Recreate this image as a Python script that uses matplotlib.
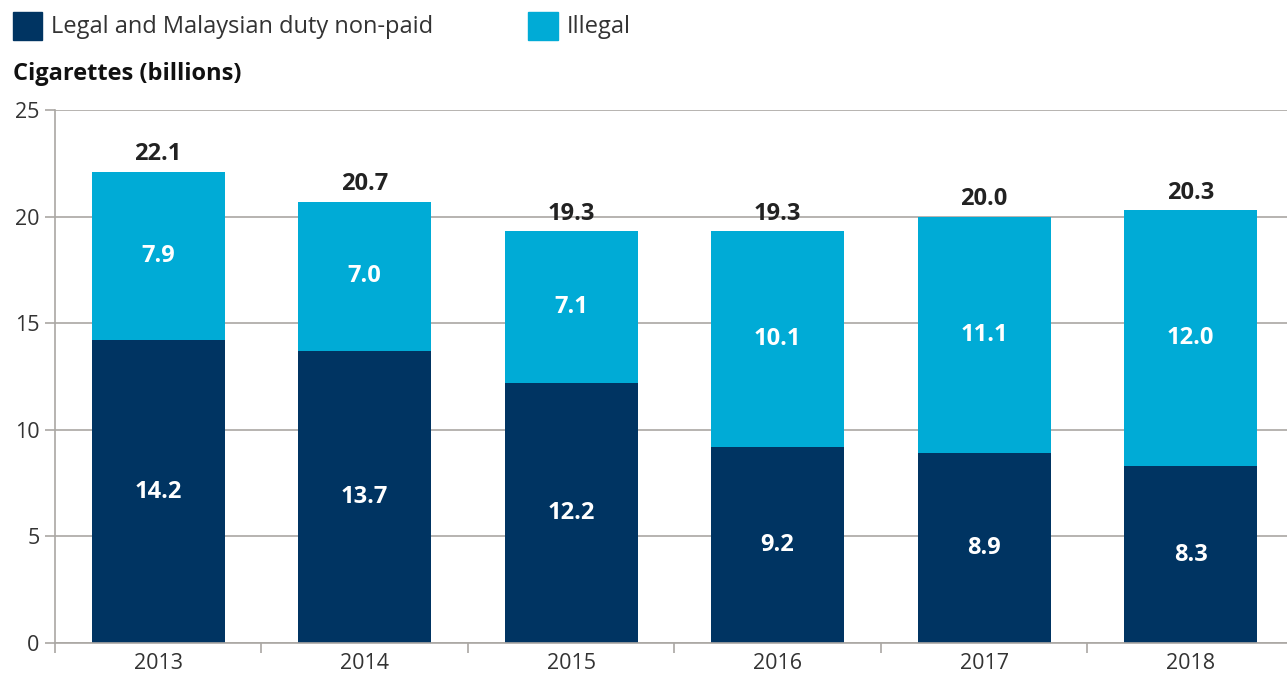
import matplotlib.pyplot as plt
from matplotlib.patches import Rectangle
import numpy as np

years = ["2013", "2014", "2015", "2016", "2017", "2018"]
legal = [14.2, 13.7, 12.2, 9.2, 8.9, 8.3]
illegal = [7.9, 7.0, 7.1, 10.1, 11.1, 12.0]
totals = [22.1, 20.7, 19.3, 19.3, 20.0, 20.3]
yticks = [0, 5, 10, 15, 20, 25]

navy = "#003462"
cyan = "#00abd6"
grey = "#aaa7a3"

plt.rcParams['font.family'] = ['Open Sans', 'DejaVu Sans']

fig = plt.figure(figsize=(12.87, 6.73), dpi=100)
ax = fig.add_axes([0.0427, 0.0446, 0.9573, 0.792])

x = np.arange(len(years))
w = 0.645
ax.bar(x, legal, w, color=navy, zorder=3)
ax.bar(x, illegal, w, bottom=legal, color=cyan, zorder=3)

# value labels
for i in range(len(years)):
    ax.text(x[i], legal[i] / 2, "%.1f" % legal[i], ha="center", va="center",
            color="white", fontsize=17, fontweight="bold", zorder=4)
    ax.text(x[i], legal[i] + illegal[i] / 2, "%.1f" % illegal[i], ha="center",
            va="center", color="white", fontsize=17, fontweight="bold", zorder=4)
    ax.annotate("%.1f" % totals[i], (x[i], totals[i]), xytext=(0, 4),
                textcoords="offset points", ha="center", va="bottom",
                color="#222222", fontsize=17, fontweight="bold", zorder=4)

ax.set_yticks(yticks)
ax.set_yticklabels([str(t) for t in yticks])
ax.set_xticks(x)
ax.set_xticklabels(years)
ax.set_xticks(np.arange(-0.5, 6, 1), minor=True)
# limits after ticks, otherwise set_xticks widens them
ax.set_xlim(-0.5, 5.467)
ax.set_ylim(0, 25)
ax.tick_params(axis="x", which="major", length=0, labelsize=15.5, pad=7,
               labelcolor="#333333")
ax.tick_params(axis="x", which="minor", length=7, color=grey, width=1.2)
ax.tick_params(axis="y", length=7, color=grey, width=1.2, labelsize=15.5,
               labelcolor="#333333", pad=4)
ax.yaxis.grid(True, color=grey, linewidth=1.2, zorder=0)
for s in ["top", "right"]:
    ax.spines[s].set_visible(False)
for s in ["left", "bottom"]:
    ax.spines[s].set_color(grey)
    ax.spines[s].set_linewidth(1.2)
    ax.spines[s].set_zorder(5)

# legend drawn by hand
fig.add_artist(Rectangle((13 / 1287, 1 - 40 / 673), 29 / 1287, 28 / 673,
                         color=navy, transform=fig.transFigure))
fig.text(51 / 1287, 1 - 27 / 673, "Legal and Malaysian duty non-paid",
         fontsize=17, va="center", color="#333333")
fig.add_artist(Rectangle((528 / 1287, 1 - 40 / 673), 30 / 1287, 28 / 673,
                         color=cyan, transform=fig.transFigure))
fig.text(567 / 1287, 1 - 27 / 673, "Illegal",
         fontsize=17, va="center", color="#333333")

fig.text(13 / 1287, 1 - 74 / 673, "Cigarettes (billions)", fontsize=17,
         fontweight="bold", va="center", color="#111111")

fig.savefig("out.png", dpi=100)
